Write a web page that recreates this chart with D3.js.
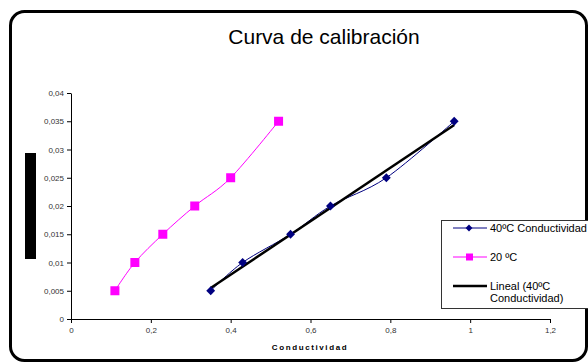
<!DOCTYPE html>
<html>
<head>
<meta charset="utf-8">
<script src="https://cdn.jsdelivr.net/npm/d3@7"></script>
<style>
  body { margin: 0; background: #fff; }
  svg { display: block; font-family: "Liberation Sans", Arial, sans-serif; }
</style>
</head>
<body>
<div class="chart"></div>
<script>
// data
var condu40 = [0.35, 0.43, 0.55, 0.65, 0.79, 0.96];
var conc40 = [0.005, 0.010, 0.015, 0.020, 0.025, 0.035];
var condu20 = [0.11, 0.16, 0.23, 0.31, 0.40, 0.52];
var conc20 = [0.005, 0.010, 0.015, 0.020, 0.025, 0.035];
var xTicks = [0, 0.2, 0.4, 0.6, 0.8, 1, 1.2];
var yTicks = [0, 0.005, 0.01, 0.015, 0.02, 0.025, 0.03, 0.035, 0.04];
var legendNames = ["40ºC Conductividad", "20 ºC", "Lineal (40ºC", "Conductividad)"];

var svgWidth = 588, svgHeight = 364;
var margin = { top: 93, right: 38, bottom: 45, left: 71 };
var chartWidth = svgWidth - margin.left - margin.right;   // 479
var chartHeight = svgHeight - margin.top - margin.bottom; // 226

var svg = d3.select(".chart")
  .append("svg")
  .attr("width", svgWidth)
  .attr("height", svgHeight);

// outer rounded frame
svg.append("rect")
  .attr("x", 10.5).attr("y", 11.5)
  .attr("width", 576).attr("height", 349)
  .attr("rx", 14).attr("ry", 14)
  .attr("fill", "#fff")
  .attr("stroke", "#000")
  .attr("stroke-width", 3);

// title
svg.append("text")
  .attr("x", 324).attr("y", 44)
  .attr("text-anchor", "middle")
  .attr("font-size", "21px")
  .attr("fill", "#000")
  .text("Curva de calibración");

// black block where the y title would be
svg.append("rect")
  .attr("x", 25).attr("y", 153)
  .attr("width", 11).attr("height", 106)
  .attr("fill", "#000");

var chartGroup = svg.append("g")
  .attr("transform", `translate(${margin.left}, ${margin.top})`);

var xScale = d3.scaleLinear().domain([0, 1.2]).range([0, chartWidth]);
var yScale = d3.scaleLinear().domain([0, 0.04]).range([chartHeight, 0]);

var fmtX = function(d) { return String(+d.toFixed(1)).replace(".", ","); };
var fmtY = function(d) { return String(+d.toFixed(3)).replace(".", ","); };

var bottomAxis = d3.axisBottom(xScale).tickValues(xTicks).tickFormat(fmtX)
  .tickSizeInner(4).tickSizeOuter(0).tickPadding(4);
var leftAxis = d3.axisLeft(yScale).tickValues(yTicks).tickFormat(fmtY)
  .tickSizeInner(4).tickSizeOuter(0).tickPadding(3);

var xAxisG = chartGroup.append("g")
  .attr("transform", `translate(0, ${chartHeight})`)
  .call(bottomAxis);
var yAxisG = chartGroup.append("g").call(leftAxis);

[xAxisG, yAxisG].forEach(function(g) {
  g.select(".domain").attr("stroke", "#000").attr("stroke-width", 1);
  g.selectAll(".tick line").attr("stroke", "#000");
  g.selectAll(".tick text")
    .attr("font-size", "8px")
    .attr("fill", "#333")
    .attr("font-family", "'Liberation Sans', Arial, sans-serif");
});

// x axis title
svg.append("text")
  .attr("x", 310).attr("y", 350)
  .attr("text-anchor", "middle")
  .attr("font-size", "8px")
  .attr("font-weight", "bold")
  .attr("letter-spacing", "1.6px")
  .attr("fill", "#000")
  .text("Conductividad");

var pts40 = condu40.map(function(x, i) { return [x, conc40[i]]; });
var pts20 = condu20.map(function(x, i) { return [x, conc20[i]]; });

var line = d3.line()
  .x(d => xScale(d[0]))
  .y(d => yScale(d[1]))
  .curve(d3.curveCatmullRom.alpha(0));

// 20 ºC series
chartGroup.append("path")
  .datum(pts20)
  .attr("d", line)
  .attr("fill", "none")
  .attr("stroke", "#ff00ff")
  .attr("stroke-width", 1);

chartGroup.selectAll(".sq")
  .data(pts20)
  .enter()
  .append("rect")
  .attr("class", "sq")
  .attr("x", d => xScale(d[0]) - 4.5)
  .attr("y", d => yScale(d[1]) - 4.5)
  .attr("width", 9).attr("height", 9)
  .attr("fill", "#ff00ff");

// 40 ºC series
chartGroup.append("path")
  .datum(pts40)
  .attr("d", line)
  .attr("fill", "none")
  .attr("stroke", "#000080")
  .attr("stroke-width", 1);

// linear trend for 40 ºC
var mx = d3.mean(condu40), my = d3.mean(conc40);
var sxy = d3.sum(condu40, (x, i) => (x - mx) * (conc40[i] - my));
var sxx = d3.sum(condu40, x => (x - mx) * (x - mx));
var slope = sxy / sxx, icpt = my - slope * mx;
var xr = d3.extent(condu40);
chartGroup.append("path")
  .datum(xr.map(x => [x, icpt + slope * x]))
  .attr("d", d3.line().x(d => xScale(d[0])).y(d => yScale(d[1])))
  .attr("fill", "none")
  .attr("stroke", "#000")
  .attr("stroke-width", 2.5);

var diamond = d3.symbol().type(d3.symbolDiamond2).size(50);
chartGroup.selectAll(".dm")
  .data(pts40)
  .enter()
  .append("path")
  .attr("class", "dm")
  .attr("d", diamond)
  .attr("transform", d => `translate(${xScale(d[0])}, ${yScale(d[1])})`)
  .attr("fill", "#000080");

// legend
var legend = svg.append("g");
legend.append("rect")
  .attr("x", 441.5).attr("y", 220.5)
  .attr("width", 170).attr("height", 88)
  .attr("fill", "#fff")
  .attr("stroke", "#333")
  .attr("stroke-width", 1);

var rows = [228, 257, 286];
legend.append("line").attr("x1", 453).attr("x2", 487).attr("y1", rows[0]).attr("y2", rows[0])
  .attr("stroke", "#000080").attr("stroke-width", 1);
legend.append("path").attr("d", d3.symbol().type(d3.symbolDiamond2).size(30))
  .attr("transform", `translate(469, ${rows[0]})`).attr("fill", "#000080");
legend.append("line").attr("x1", 453).attr("x2", 487).attr("y1", rows[1]).attr("y2", rows[1])
  .attr("stroke", "#ff00ff").attr("stroke-width", 1);
legend.append("rect").attr("x", 466).attr("y", rows[1] - 3.5).attr("width", 7).attr("height", 7)
  .attr("fill", "#ff00ff");
legend.append("line").attr("x1", 453).attr("x2", 487).attr("y1", rows[2]).attr("y2", rows[2])
  .attr("stroke", "#000").attr("stroke-width", 2.5);

legend.selectAll(".lt")
  .data(legendNames)
  .enter()
  .append("text")
  .attr("class", "lt")
  .attr("x", 490)
  .attr("y", (d, i) => [rows[0], rows[1], rows[2], rows[2] + 12][i] + 4)
  .attr("font-size", "11px")
  .attr("fill", "#000")
  .text(d => d);
</script>
</body>
</html>
